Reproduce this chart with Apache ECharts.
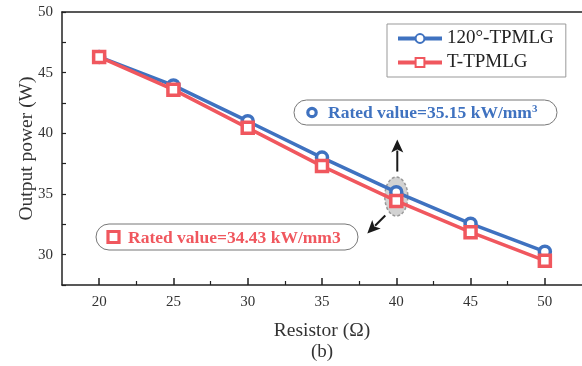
<!DOCTYPE html>
<html>
<head>
<meta charset="utf-8">
<script src="https://cdn.jsdelivr.net/npm/echarts@6/dist/echarts.min.js"></script>
<style>
  html, body { margin: 0; padding: 0; background: #fff; }
  #chart { width: 582px; height: 366px; }
</style>
</head>
<body>
<div id="chart"></div>
<script>
// Chart data
const resistors = [20, 25, 30, 35, 40, 45, 50];
const power120 = [46.3, 43.95, 41.0, 38.0, 35.15, 32.55, 30.25];
const powerT = [46.3, 43.6, 40.45, 37.3, 34.43, 31.85, 29.5];
const majorTicks = [20, 25, 30, 35, 40, 45, 50];
const minorTicks = [22.5, 27.5, 32.5, 37.5, 42.5, 47.5];

const BLUE = '#3f72c0';
const RED = '#f0575e';
const FONT = '"Liberation Serif", "Times New Roman", serif';

const chart = echarts.init(document.getElementById('chart'));

function seriesData(values) {
  return resistors.map((r, i) => [r, values[i]]);
}

const option = {
  animation: false,
  textStyle: { fontFamily: FONT },
  grid: { left: 62, right: 0, top: 12, bottom: 81 },
  legend: {
    orient: 'vertical',
    left: 387,
    top: 24,
    padding: [5, 12, 5, 9],
    itemGap: 5,
    itemWidth: 44,
    itemHeight: 11,
    borderColor: '#999',
    borderWidth: 1,
    lineStyle: { width: 4 },
    textStyle: { fontFamily: FONT, fontSize: 19, color: '#222' },
    data: ['120°-TPMLG', 'T-TPMLG']
  },
  xAxis: [
    {
      type: 'value',
      min: 17.5,
      max: 52.5,
      position: 'bottom',
      name: 'Resistor (Ω)',
      nameLocation: 'middle',
      nameGap: 36,
      nameMoveOverlap: false,
      nameTextStyle: { fontFamily: FONT, fontSize: 19.5, color: '#333' },
      splitLine: { show: false },
      axisLine: { lineStyle: { color: '#222', width: 1.5 } },
      axisTick: { inside: true, length: 7, customValues: majorTicks, lineStyle: { color: '#222', width: 1.5 } },
      axisLabel: { customValues: majorTicks, margin: 10, fontFamily: FONT, fontSize: 15, color: '#333' }
    },
    {
      type: 'value',
      min: 17.5,
      max: 52.5,
      position: 'bottom',
      splitLine: { show: false },
      axisLine: { show: false },
      axisTick: { inside: true, length: 4, customValues: minorTicks, lineStyle: { color: '#222', width: 1.2 } },
      axisLabel: { show: false }
    },
    {
      type: 'value',
      min: 17.5,
      max: 52.5,
      position: 'top',
      splitLine: { show: false },
      axisLine: { lineStyle: { color: '#222', width: 1.5 } },
      axisTick: { show: false },
      axisLabel: { show: false }
    }
  ],
  yAxis: {
    type: 'value',
    min: 27.5,
    max: 50,
    interval: 2.5,
    name: 'Output power (W)',
    nameLocation: 'middle',
    nameGap: 25,
    nameMoveOverlap: false,
    nameTextStyle: { fontFamily: FONT, fontSize: 19.5, color: '#333' },
    splitLine: { show: false },
    axisLine: { show: true, lineStyle: { color: '#222', width: 1.5 } },
    axisTick: { show: true, inside: true, length: 4, lineStyle: { color: '#222', width: 1.2 } },
    axisLabel: {
      margin: 9,
      fontFamily: FONT,
      fontSize: 15,
      color: '#333',
      formatter: v => (v % 5 === 0 ? String(v) : '')
    }
  },
  series: [
    {
      name: '120°-TPMLG',
      type: 'line',
      data: seriesData(power120),
      symbol: 'circle',
      symbolSize: 11,
      lineStyle: { color: BLUE, width: 3.5 },
      itemStyle: { color: '#fff', borderColor: BLUE, borderWidth: 3.5 },
      z: 3
    },
    {
      name: 'T-TPMLG',
      type: 'line',
      data: seriesData(powerT),
      symbol: 'rect',
      symbolSize: 11,
      lineStyle: { color: RED, width: 3.5 },
      itemStyle: { color: '#fff', borderColor: RED, borderWidth: 3.5 },
      z: 4
    }
  ]
};

chart.setOption(option);

// Annotations placed around the rated point at R = 40
const idx = resistors.indexOf(40);
const c = chart.convertToPixel({ xAxisIndex: 0, yAxisIndex: 0 }, [40, (power120[idx] + powerT[idx]) / 2]);
const cx = c[0], cy = c[1];

function arrow(x1, y1, x2, y2) {
  const ang = Math.atan2(y2 - y1, x2 - x1);
  const hl = 13, hw = 6;
  const bx = x2 - hl * Math.cos(ang), by = y2 - hl * Math.sin(ang);
  const px = -Math.sin(ang) * hw, py = Math.cos(ang) * hw;
  return [
    { type: 'line', shape: { x1: x1, y1: y1, x2: bx + 2 * Math.cos(ang), y2: by + 2 * Math.sin(ang) }, style: { stroke: '#1a1a1a', lineWidth: 2 }, z: 10 },
    { type: 'polygon', shape: { points: [[x2, y2], [bx + px, by + py], [bx + 3 * Math.cos(ang), by + 3 * Math.sin(ang)], [bx - px, by - py]] }, style: { fill: '#1a1a1a' }, z: 10 }
  ];
}

const graphics = [
  // dashed ellipse
  {
    type: 'ellipse',
    shape: { cx: cx, cy: cy, rx: 11.5, ry: 19.5 },
    style: { fill: 'rgba(180,180,180,0.6)', stroke: '#999', lineWidth: 1.5, lineDash: [3, 2] },
    z: 1
  },
  ...arrow(cx + 1, cy - 25, cx + 1, cy - 57),
  ...arrow(cx - 11, cy + 19, cx - 29, cy + 37),
  // blue label box
  {
    type: 'rect',
    shape: { x: 294, y: 100, width: 263, height: 25, r: 12.5 },
    style: { fill: '#fff', stroke: '#777', lineWidth: 1 },
    z: 5
  },
  {
    type: 'circle',
    shape: { cx: 312, cy: 112.5, r: 4.2 },
    style: { fill: '#fff', stroke: BLUE, lineWidth: 3.2 },
    z: 6
  },
  {
    type: 'text',
    x: 328,
    y: 113,
    style: {
      text: '{a|Rated value=35.15 kW/mm}{s|3}',
      verticalAlign: 'middle',
      rich: {
        a: { fontFamily: FONT, fontSize: 17.5, fontWeight: 'bold', fill: BLUE },
        s: { fontFamily: FONT, fontSize: 11, fontWeight: 'bold', fill: BLUE, verticalAlign: 'top', padding: [0, 0, 8, 0] }
      }
    },
    z: 6
  },
  // red label box
  {
    type: 'rect',
    shape: { x: 96, y: 224, width: 262, height: 26, r: 13 },
    style: { fill: '#fff', stroke: '#777', lineWidth: 1 },
    z: 5
  },
  {
    type: 'rect',
    shape: { x: 108, y: 231.5, width: 11, height: 11 },
    style: { fill: '#fff', stroke: RED, lineWidth: 3.2 },
    z: 6
  },
  {
    type: 'text',
    x: 128,
    y: 238,
    style: {
      text: 'Rated value=34.43 kW/mm3',
      verticalAlign: 'middle',
      fontFamily: FONT,
      fontSize: 17.5,
      fontWeight: 'bold',
      fill: RED
    },
    z: 6
  },
  // panel tag
  {
    type: 'text',
    x: 322,
    y: 352,
    style: { text: '(b)', align: 'center', verticalAlign: 'middle', fontFamily: FONT, fontSize: 19, fill: '#333' }
  }
];

chart.setOption({ graphic: graphics });

window.addEventListener('resize', function () {
  chart.resize();
});
</script>
</body>
</html>
